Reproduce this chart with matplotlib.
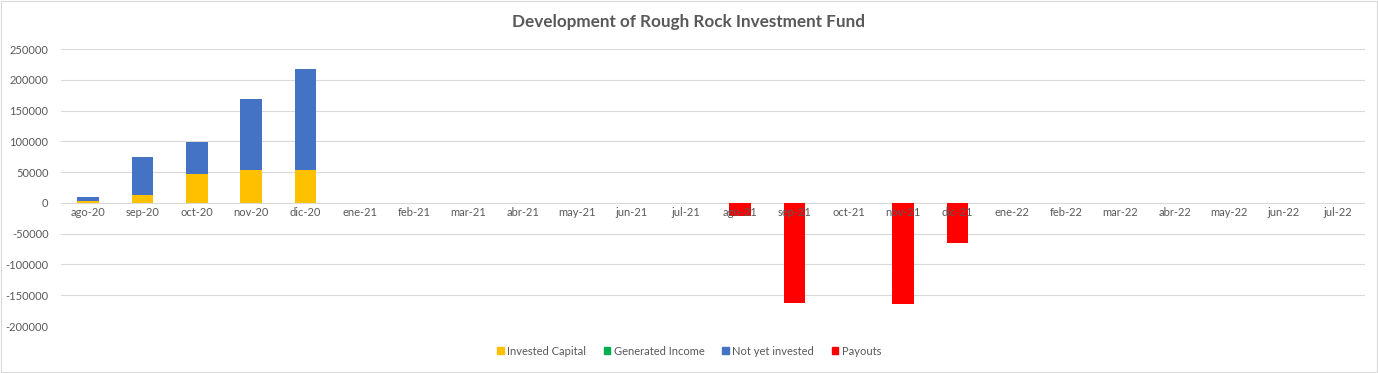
import numpy as np
import matplotlib.pyplot as plt
from matplotlib.patches import Patch

plt.rcParams['font.family'] = ['Lato', 'DejaVu Sans']

months = ['ago-20', 'sep-20', 'oct-20', 'nov-20', 'dic-20', 'ene-21', 'feb-21', 'mar-21',
          'abr-21', 'may-21', 'jun-21', 'jul-21', 'ago-21', 'sep-21', 'oct-21', 'nov-21',
          'dic-21', 'ene-22', 'feb-22', 'mar-22', 'abr-22', 'may-22', 'jun-22', 'jul-22']
invested = [3000, 13000, 47500, 54000, 54000] + [0] * 19
income = [0] * 24
not_invested = [7000, 62000, 52000, 114000, 164000] + [0] * 19
payouts = [0] * 12 + [-21000, -163000, 0, -164000, -65000] + [0] * 7

c_inv = '#ffc000'
c_inc = '#00b050'
c_not = '#4472c4'
c_pay = '#ff0000'
gray = '#595959'

fig = plt.figure(figsize=(13.78, 3.73), dpi=100)
ax = fig.add_axes([0.0443, 0.126, 0.9463, 0.7426])

x = np.arange(len(months))
w = 0.4
bottom = np.zeros(len(months))
for vals, col in [(invested, c_inv), (income, c_inc), (not_invested, c_not)]:
    ax.bar(x, vals, w, bottom=bottom, color=col, zorder=1)
    bottom += np.array(vals)
ax.bar(x, payouts, w, color=c_pay, zorder=1)

yt = np.arange(-200000, 250001, 50000)
ax.set_xlim(-0.5, len(months) - 0.5)
ax.set_ylim(-200000, 250000)
ax.set_yticks(yt)
ax.set_yticklabels([str(v) for v in yt])
for v in yt:
    ax.axhline(v, color='#d9d9d9', linewidth=0.8, zorder=0)

# category labels sit just under the zero line, drawn on top of the bars
ax.set_xticks([])
for xi, m in zip(x, months):
    ax.text(xi, -7000, m, ha='center', va='top', fontsize=8, color=gray, zorder=5)

for s in ['top', 'right', 'left', 'bottom']:
    ax.spines[s].set_visible(False)
ax.tick_params(axis='y', length=0, colors=gray, labelsize=8, pad=9)

fig.text(0.5, 0.94, 'Development of Rough Rock Investment Fund', ha='center', va='center',
         fontsize=12.3, fontweight='bold', color=gray)

handles = [Patch(color=c_inv), Patch(color=c_inc), Patch(color=c_not), Patch(color=c_pay)]
fig.legend(handles, ['Invested Capital', 'Generated Income', 'Not yet invested', 'Payouts'],
           loc='center', bbox_to_anchor=(0.5, 0.058), ncol=4, frameon=False, fontsize=8,
           handlelength=0.6, handleheight=0.6, handletextpad=0.3, columnspacing=1.6,
           labelcolor=gray)

fig.patches.append(plt.Rectangle((0.001, 0.003), 0.998, 0.994, transform=fig.transFigure,
                                 fill=False, edgecolor='#d9d9d9', linewidth=0.8))

fig.savefig('out.png', dpi=100)
